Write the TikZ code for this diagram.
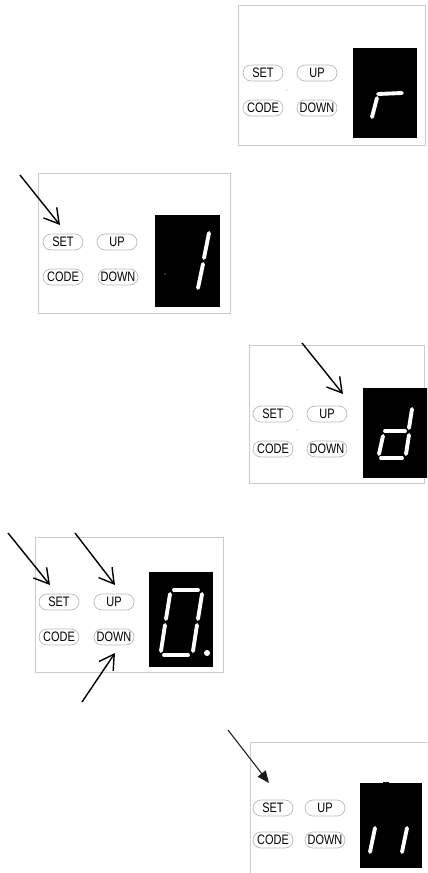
\documentclass[tikz,border=0pt]{standalone}
\usepackage{fontspec}
\setsansfont{Liberation Sans}
\usetikzlibrary{arrows.meta}
\newcommand\keylabel[1]{\scalebox{.8}[1]{#1}}

\begin{document}
\begin{tikzpicture}[x=0.02cm,y=-0.02cm,
  panel/.style={draw=gray!40,line width=0.5pt},
  key/.style={draw=gray!55,line width=0.4pt,rounded corners=1.6mm,minimum width=8mm,minimum height=3.2mm,inner sep=0pt,font=\sffamily\fontsize{7.8}{8}\selectfont},
  disp/.style={fill=black},
  seg/.style={white,line width=2.2pt,line cap=round},
  speck/.style={fill=gray!60},
  pointer/.style={-{Straight Barb[length=2.9mm,width=3.4mm]},line width=0.8pt},
  pointerfill/.style={-{Triangle[length=2.4mm,width=2mm]},gray!20!black,line width=0.6pt}]
  \useasboundingbox (0,0) rectangle (427,873);
  \clip (0,0) rectangle (427,873);

  % panel 1: r
  \draw[panel] (238,5) rectangle (425,145);
  \node[key] (set1) at (263,73) {\keylabel{SET}};
  \node[key] (up1) at (317,73) {\keylabel{UP}};
  \node[key] (code1) at (263,108) {\keylabel{CODE}};
  \node[key] (down1) at (317,108) {\keylabel{DOWN}};
  \fill[speck] (287,90) circle (0.7);
  \fill[disp] (353,48) rectangle (417,138);
  \draw[seg] (378,94) -- (402,93);
  \draw[seg] (377,98) -- (372,117);

  % panel 2: 1
  \draw[panel] (38,173) rectangle (230,313);
  \node[key] (set2) at (63,242) {\keylabel{SET}};
  \node[key] (up2) at (117,242) {\keylabel{UP}};
  \node[key] (code2) at (63,277) {\keylabel{CODE}};
  \node[key] (down2) at (118,277) {\keylabel{DOWN}};
  \fill[disp] (155,215) rectangle (220,307);
  \fill[gray!50] (165,274) circle (0.7);
  \draw[seg] (209,233) -- (204,258);
  \draw[seg] (203,264) -- (198,288);
  \coordinate (a2s) at (20,175);
  \coordinate (a2e) at (60,225);
  \draw[pointer] (a2s) -- (a2e);

  % panel 3: d
  \draw[panel] (249,345) rectangle (424,483);
  \node[key] (set3) at (273,414) {\keylabel{SET}};
  \node[key] (up3) at (327,414) {\keylabel{UP}};
  \node[key] (code3) at (273,449) {\keylabel{CODE}};
  \node[key] (down3) at (327,449) {\keylabel{DOWN}};
  \fill[speck] (297,430) circle (0.7);
  \fill[disp] (363,388) rectangle (428,478);
  \draw[seg] (412,409) -- (409,428);
  \draw[seg] (409,435) -- (406,454);
  \draw[seg] (385,431) -- (405,431);
  \draw[seg] (383,436) -- (379,454);
  \draw[seg] (381,458) -- (402,458);
  \coordinate (a3s) at (302,343);
  \coordinate (a3e) at (343,394);
  \draw[pointer] (a3s) -- (a3e);

  % panel 4: 0.
  \draw[panel] (35,537) rectangle (223,672);
  \node[key] (set4) at (59,602) {\keylabel{SET}};
  \node[key] (up4) at (114,602) {\keylabel{UP}};
  \node[key] (code4) at (59,637) {\keylabel{CODE}};
  \node[key] (down4) at (114,637) {\keylabel{DOWN}};
  \fill[disp] (149,572) rectangle (213,667);
  \draw[seg] (174,590) -- (198,590);
  \draw[seg] (202,594) -- (198,619);
  \draw[seg] (197,625) -- (193,651);
  \draw[seg] (164,655) -- (188,655);
  \draw[seg] (165,625) -- (161,651);
  \draw[seg] (170,594) -- (166,619);
  \fill[white] (207,653) circle (3);
  \coordinate (a4s) at (8,533);
  \coordinate (a4e) at (50,585);
  \coordinate (b4s) at (75,533);
  \coordinate (b4e) at (115,585);
  \coordinate (c4s) at (82,702);
  \coordinate (c4e) at (115,653);
  \draw[pointer] (a4s) -- (a4e);
  \draw[pointer] (b4s) -- (b4e);
  \draw[pointer] (c4s) -- (c4e);

  % panel 5: 11
  \draw[panel] (250,742) rectangle (440,900);
  \node[key] (set5) at (273,808) {\keylabel{SET}};
  \node[key] (up5) at (325,808) {\keylabel{UP}};
  \node[key] (code5) at (273,840) {\keylabel{CODE}};
  \node[key] (down5) at (325,840) {\keylabel{DOWN}};
  \fill[disp] (360,783) rectangle (422,868);
  \fill[disp] (383,782) rectangle (389,783);
  \draw[seg] (375,828) -- (370,852);
  \draw[seg] (407,828) -- (402,852);
  \coordinate (a5s) at (228,730);
  \coordinate (a5e) at (269,783);
  \draw[pointerfill] (a5s) -- (a5e);
\end{tikzpicture}
\end{document}
